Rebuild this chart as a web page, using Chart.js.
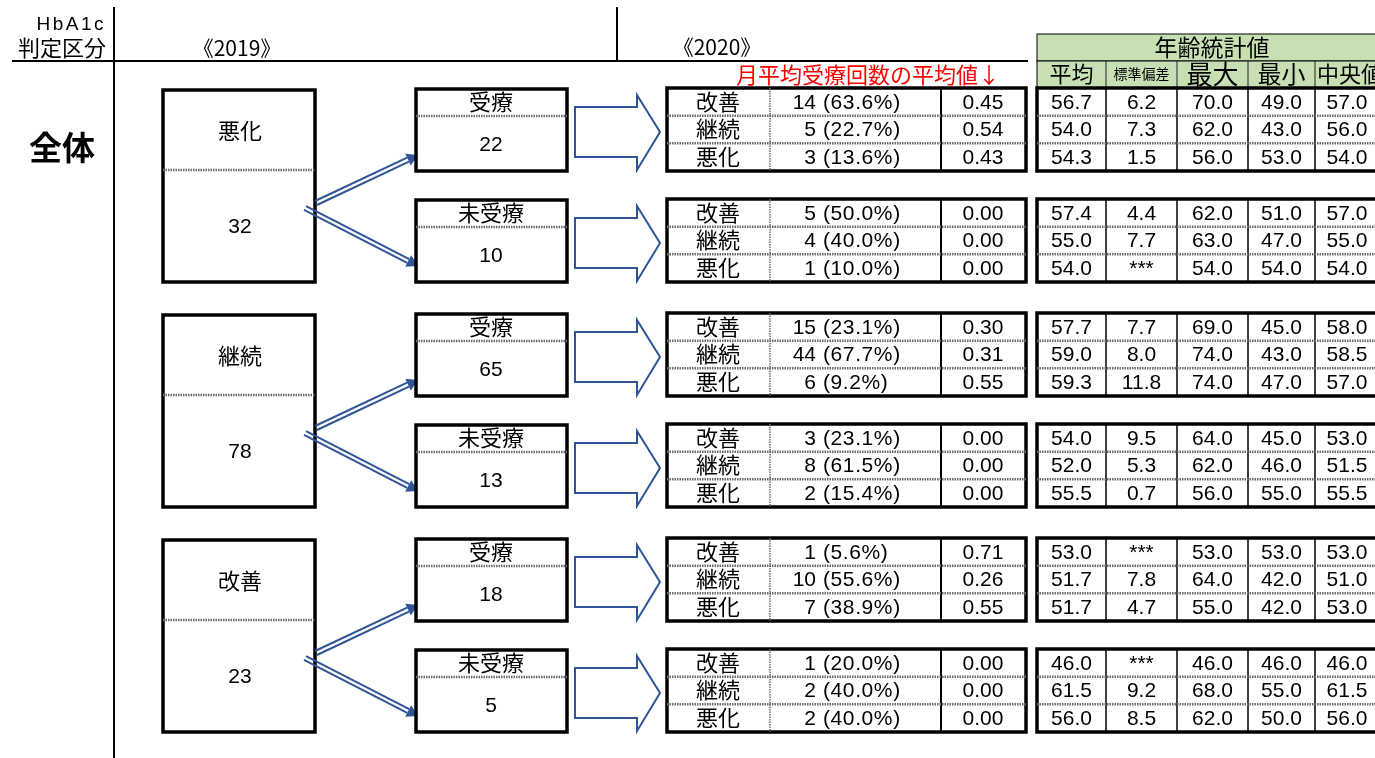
<!DOCTYPE html>
<html>
<head>
<meta charset="utf-8">
<script src="https://cdn.jsdelivr.net/npm/chart.js@4.4.1/dist/chart.umd.min.js"></script>
<style>
  html, body { margin: 0; padding: 0; background: #fff; overflow: hidden; }
  canvas { display: block; }
</style>
</head>
<body>
<canvas id="flow" width="1375" height="758"></canvas>
<script>
// 2019年の判定区分と人数
const groups2019 = ['悪化', '継続', '改善'];
const totals2019 = [32, 78, 23];

// 受療 / 未受療 の人数
const careLabels = ['受療', '未受療'];
const careCounts = [[22, 10], [65, 13], [18, 5]];

// 2020年の判定区分ごとの人数・割合・月平均受療回数
const outcomeLabels = ['改善', '継続', '悪化'];
const outcomeCounts = [
  [[14, 5, 3], [5, 4, 1]],
  [[15, 44, 6], [3, 8, 2]],
  [[1, 10, 7], [1, 2, 2]]
];
const outcomePcts = [
  [[63.6, 22.7, 13.6], [50.0, 40.0, 10.0]],
  [[23.1, 67.7, 9.2], [23.1, 61.5, 15.4]],
  [[5.6, 55.6, 38.9], [20.0, 40.0, 40.0]]
];
const visitMeans = [
  [[0.45, 0.54, 0.43], [0.00, 0.00, 0.00]],
  [[0.30, 0.31, 0.55], [0.00, 0.00, 0.00]],
  [[0.71, 0.26, 0.55], [0.00, 0.00, 0.00]]
];

// 年齢統計値 (null は ***)
const statHeaders = ['平均', '標準偏差', '最大', '最小', '中央値'];
const ageMean = [
  [[56.7, 54.0, 54.3], [57.4, 55.0, 54.0]],
  [[57.7, 59.0, 59.3], [54.0, 52.0, 55.5]],
  [[53.0, 51.7, 51.7], [46.0, 61.5, 56.0]]
];
const ageSd = [
  [[6.2, 7.3, 1.5], [4.4, 7.7, null]],
  [[7.7, 8.0, 11.8], [9.5, 5.3, 0.7]],
  [[null, 7.8, 4.7], [null, 9.2, 8.5]]
];
const ageMax = [
  [[70.0, 62.0, 56.0], [62.0, 63.0, 54.0]],
  [[69.0, 74.0, 74.0], [64.0, 62.0, 56.0]],
  [[53.0, 64.0, 55.0], [46.0, 68.0, 62.0]]
];
const ageMin = [
  [[49.0, 43.0, 53.0], [51.0, 47.0, 54.0]],
  [[45.0, 43.0, 47.0], [45.0, 46.0, 55.0]],
  [[53.0, 42.0, 42.0], [46.0, 55.0, 50.0]]
];
const ageMedian = [
  [[57.0, 56.0, 54.0], [57.0, 55.0, 54.0]],
  [[58.0, 58.5, 57.0], [53.0, 51.5, 55.5]],
  [[53.0, 51.0, 53.0], [46.0, 61.5, 56.0]]
];

// レイアウト (画面座標)
const GROUP_PITCH = 225;
const SUB_TOP = [88, 199];
const SUB_H = 83;
const BIG_BOX = { x1: 163, x2: 315, y1: 90, y2: 282, div: 170 };
const SMALL_BOX = { x1: 416, x2: 567, div: 27 };
const MID_COLS = [667, 770, 941, 1026];
const STAT_COLS = [1037, 1106, 1177, 1248, 1315, 1388];
const BLUE = '#2F5597';
const DOT = '#6a6a6a';
const JP = '"Noto Sans CJK JP", sans-serif';
const NUM = '"Liberation Sans", Arial, sans-serif';

const fmt1 = v => v === null ? '***' : v.toFixed(1);

function drawDiagram(chart) {
  const ctx = chart.ctx;
  const sx = chart.scales.x, sy = chart.scales.y;
  const X = v => sx.getPixelForValue(v);
  const Y = v => sy.getPixelForValue(v);

  function line(x1, y1, x2, y2, lw, color, dotted) {
    ctx.save();
    ctx.beginPath();
    ctx.lineWidth = lw;
    ctx.strokeStyle = color;
    if (dotted) ctx.setLineDash([1.5, 1]);
    ctx.moveTo(X(x1), Y(y1));
    ctx.lineTo(X(x2), Y(y2));
    ctx.stroke();
    ctx.restore();
  }
  function box(x1, y1, x2, y2, lw, fill) {
    ctx.save();
    if (fill) {
      ctx.fillStyle = fill;
      ctx.fillRect(X(x1), Y(y1), X(x2) - X(x1), Y(y2) - Y(y1));
    }
    ctx.lineWidth = lw;
    ctx.strokeStyle = '#000';
    ctx.strokeRect(X(x1), Y(y1), X(x2) - X(x1), Y(y2) - Y(y1));
    ctx.restore();
  }
  function text(str, x, y, font, align, color, spacing) {
    ctx.save();
    ctx.font = font;
    ctx.fillStyle = color || '#000';
    ctx.textAlign = align || 'center';
    ctx.textBaseline = 'middle';
    if (spacing) ctx.letterSpacing = spacing;
    ctx.fillText(str, X(x), Y(y));
    ctx.restore();
  }
  function doubleArrow(x1, y1, x2, y2) {
    const dx = x2 - x1, dy = y2 - y1;
    const len = Math.hypot(dx, dy);
    const ux = dx / len, uy = dy / len;
    const nx = -uy, ny = ux;
    const bx = x2 - ux * 11, by = y2 - uy * 11;
    [-2.2, 2.2].forEach(o => line(x1 + nx * o, y1 + ny * o, bx + nx * o, by + ny * o, 2, BLUE));
    ctx.save();
    ctx.fillStyle = BLUE;
    ctx.beginPath();
    ctx.moveTo(X(x2), Y(y2));
    ctx.lineTo(X(bx + nx * 6.5), Y(by + ny * 6.5));
    ctx.lineTo(X(bx - nx * 6.5), Y(by - ny * 6.5));
    ctx.closePath();
    ctx.fill();
    ctx.restore();
  }
  function blockArrow(cy) {
    const pts = [[575, cy - 25], [637, cy - 25], [637, cy - 37], [660, cy], [637, cy + 38], [637, cy + 25], [575, cy + 25]];
    ctx.save();
    ctx.beginPath();
    pts.forEach((p, i) => i ? ctx.lineTo(X(p[0]), Y(p[1])) : ctx.moveTo(X(p[0]), Y(p[1])));
    ctx.closePath();
    ctx.fillStyle = '#fff';
    ctx.fill();
    ctx.lineWidth = 2;
    ctx.strokeStyle = BLUE;
    ctx.stroke();
    ctx.restore();
  }

  // 見出し
  line(114, 7, 114, 758, 2, '#000');
  line(12, 61, 1028, 61, 2, '#000');
  line(617, 7, 617, 61, 2, '#000');
  text('HbA1c', 106, 25, '19px ' + NUM, 'right', '#000', '2.5px');
  text('判定区分', 106, 48, '22px ' + JP, 'right');
  text('《2019》', 237, 48, '21px ' + JP);
  text('《2020》', 717, 47, '21px ' + JP);
  text('全体', 62, 147, 'bold 33px ' + JP);
  text('月平均受療回数の平均値↓', 868, 75, '22px ' + JP, 'center', '#FF0000');

  // 年齢統計値の見出し
  box(STAT_COLS[0], 34, 1400, 61, 1, '#C6E0B4');
  box(STAT_COLS[0], 61, 1400, 88, 1, '#C6E0B4');
  for (let c = 1; c < 5; c++) line(STAT_COLS[c], 61, STAT_COLS[c], 88, 1, '#222');
  text('年齢統計値', 1212, 47, '23px ' + JP);
  const headFonts = ['22px ', '14px ', '26px ', '24px ', '22px '];
  statHeaders.forEach((h, c) => {
    const cx = c < 4 ? (STAT_COLS[c] + STAT_COLS[c + 1]) / 2 : 1350;
    text(h, cx, 74, headFonts[c] + JP);
  });

  groups2019.forEach((gName, g) => {
    const off = g * GROUP_PITCH;
    // 2019 区分の箱
    box(BIG_BOX.x1, BIG_BOX.y1 + off, BIG_BOX.x2, BIG_BOX.y2 + off, 3.5);
    line(BIG_BOX.x1, BIG_BOX.div + off, BIG_BOX.x2, BIG_BOX.div + off, 2.5, DOT, true);
    text(gName, 240, 131 + off, '22px ' + JP);
    text(String(totals2019[g]), 240, 227 + off, '21px ' + NUM);

    careLabels.forEach((cName, k) => {
      const top = SUB_TOP[k] + off;
      const bottom = top + SUB_H;
      // 二重線矢印
      doubleArrow(k ? 305 : 316, (k ? 208 : 203) + off, 418, top + 67);
      // 受療 / 未受療 の箱
      box(SMALL_BOX.x1, top + 1, SMALL_BOX.x2, bottom, 3.5);
      line(SMALL_BOX.x1, top + 1 + SMALL_BOX.div, SMALL_BOX.x2, top + 1 + SMALL_BOX.div, 2.5, DOT, true);
      text(cName, 491, top + 14, '22px ' + JP);
      text(String(careCounts[g][k]), 491, top + 57, '21px ' + NUM);
      // 白抜き矢印
      blockArrow(top + 44);

      // 2020 結果の表と年齢統計値の表
      const rowH = SUB_H / 3;
      box(MID_COLS[0], top, MID_COLS[3], bottom, 3.5);
      line(MID_COLS[1], top, MID_COLS[1], bottom, 1.5, DOT, true);
      line(MID_COLS[2], top, MID_COLS[2], bottom, 2, '#000');
      box(STAT_COLS[0], top, 1400, bottom, 3.5);
      for (let c = 1; c < 5; c++) line(STAT_COLS[c], top, STAT_COLS[c], bottom, 1.5, '#000');
      for (let r = 1; r < 3; r++) {
        line(MID_COLS[0], top + r * rowH, MID_COLS[3], top + r * rowH, 2.5, DOT, true);
        line(STAT_COLS[0], top + r * rowH, 1400, top + r * rowH, 2.5, DOT, true);
      }
      outcomeLabels.forEach((oName, r) => {
        const cy = top + rowH * (r + 0.5) + 1;
        text(oName, 718, cy - 1.5, '22px ' + JP);
        text(String(outcomeCounts[g][k][r]), 816, cy, '21px ' + NUM, 'right');
        text('(' + outcomePcts[g][k][r].toFixed(1) + '%)', 823, cy, '21px ' + NUM, 'left', '#000', '0.6px');
        text(visitMeans[g][k][r].toFixed(2), 983, cy, '21px ' + NUM);
        const vals = [ageMean, ageSd, ageMax, ageMin, ageMedian].map(a => fmt1(a[g][k][r]));
        vals.forEach((v, c) => {
          const cx = c < 4 ? (STAT_COLS[c] + STAT_COLS[c + 1]) / 2 : 1347;
          text(v, cx, cy, '21px ' + NUM);
        });
      });
    });
  });
}

const diagramPlugin = {
  id: 'diagram',
  beforeDraw(chart) {
    const ctx = chart.ctx;
    ctx.save();
    ctx.fillStyle = '#fff';
    ctx.fillRect(0, 0, chart.width, chart.height);
    ctx.restore();
  },
  afterDraw(chart) { drawDiagram(chart); }
};

new Chart(document.getElementById('flow').getContext('2d'), {
  type: 'scatter',
  data: { datasets: [{ data: [], pointRadius: 0 }] },
  options: {
    responsive: false,
    animation: false,
    events: [],
    layout: { padding: 0 },
    scales: {
      x: { type: 'linear', min: 0, max: 1375, display: false },
      y: { type: 'linear', min: 0, max: 758, reverse: true, display: false }
    },
    plugins: { legend: { display: false }, tooltip: { enabled: false } }
  },
  plugins: [diagramPlugin]
});
</script>
</body>
</html>
